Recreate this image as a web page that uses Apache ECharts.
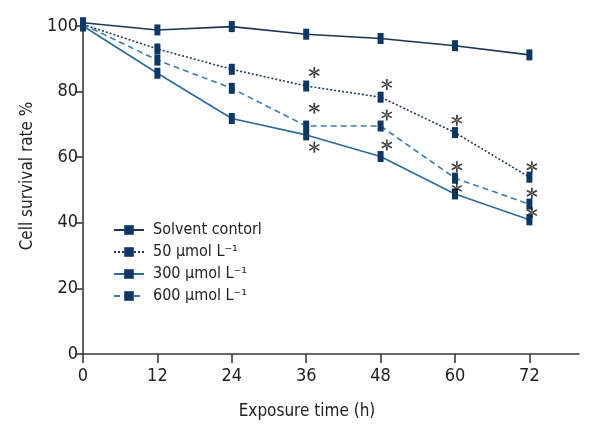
<!DOCTYPE html>
<html>
<head>
<meta charset="utf-8">
<script src="https://cdn.jsdelivr.net/npm/echarts@6/dist/echarts.min.js"></script>
<style>html,body{margin:0;padding:0;background:#fff;}#c{width:600px;height:440px;}</style>
</head>
<body>
<div id="c"></div>
<script>
var hours = [0, 12, 24, 36, 48, 60, 72];
var tickLabels = [0, 12, 24, 36, 48, 60, 72];
var seriesNames = ['Solvent contorl', '50 µmol L⁻¹', '300 µmol L⁻¹', '600 µmol L⁻¹'];
var solvent = [101, 98.8, 99.8, 97.5, 96.2, 94, 91.2];
var conc50 = [100.5, 93, 86.8, 81.7, 78.3, 67.5, 53.9];
var conc300 = [100, 85.6, 71.8, 66.8, 60.2, 48.8, 40.9];
var conc600 = [100.5, 89.6, 81, 69.5, 69.5, 53.6, 45.7];
var sigX = [37.3, 37.3, 37.3, 49, 49, 49, 60.3, 60.3, 60.3, 72.4, 72.4, 72.4];
var sigY = [85.8, 74.9, 63, 82.2, 72.9, 63.7, 71.3, 57.1, 50.5, 57.1, 49, 43.1];

var FONT = '"DejaVu Sans Condensed", "Liberation Sans Narrow", "Liberation Sans", sans-serif';
var markerColor = '#0e3764';
var asteriskPath = 'path://M8.5 0L11.5 0L11.5 20L8.5 20Z M2.09 16.3L19.41 6.3L17.91 3.7L0.59 13.7Z M0.59 6.3L17.91 16.3L19.41 13.7L2.09 3.7Z';

function pairs(xs, ys) { return xs.map(function (x, i) { return [x, ys[i]]; }); }

function lineSeries(name, values, color, type) {
  return {
    name: name, type: 'line', data: pairs(hours, values),
    symbol: 'rect', symbolSize: [6, 11], clip: false,
    itemStyle: { color: markerColor },
    lineStyle: { color: color, width: 1.6, type: type },
    z: 3
  };
}

var chart = echarts.init(document.getElementById('c'), null, { renderer: 'canvas' });
chart.setOption({
  animation: false,
  backgroundColor: '#ffffff',
  textStyle: { fontFamily: FONT },
  grid: { left: 83, right: 21, top: 26, bottom: 86 },
  legend: {
    data: seriesNames,
    orient: 'vertical', left: 108, top: 216,
    itemWidth: 30, itemHeight: 12, itemGap: 4,
    textStyle: { fontFamily: FONT, fontSize: 16, color: '#222', lineHeight: 18, padding: [0, 0, 0, 4] }
  },
  xAxis: {
    type: 'value', min: 0, max: 80,
    name: 'Exposure time (h)', nameLocation: 'middle', nameGap: 49,
    nameTextStyle: { fontFamily: FONT, fontSize: 17, color: '#222', padding: [0, 48, 0, 0] },
    axisLine: { show: true, onZero: false, lineStyle: { color: '#3a3a3a', width: 1.6 } },
    axisTick: { show: true, length: 9, customValues: tickLabels, lineStyle: { color: '#3a3a3a', width: 1.6 } },
    axisLabel: { customValues: tickLabels, fontFamily: FONT, fontSize: 18, color: '#222', margin: 13 },
    splitLine: { show: false }
  },
  yAxis: {
    type: 'value', min: 0, max: 100, interval: 20,
    name: 'Cell survival rate %', nameLocation: 'middle', nameGap: 32,
    nameTextStyle: { fontFamily: FONT, fontSize: 17, color: '#222', padding: [0, 0, 0, 28] },
    axisLine: { show: true, lineStyle: { color: '#3a3a3a', width: 1.6 } },
    axisTick: { show: true, length: 8, lineStyle: { color: '#3a3a3a', width: 1.6 } },
    axisLabel: { fontFamily: FONT, fontSize: 18, color: '#222', margin: 5 },
    splitLine: { show: false }
  },
  series: [
    lineSeries(seriesNames[0], solvent, '#1a3556', 'solid'),
    lineSeries(seriesNames[1], conc50, '#1f3d63', [2, 2]),
    lineSeries(seriesNames[2], conc300, '#2b6c9c', 'solid'),
    lineSeries(seriesNames[3], conc600, '#3c7cb0', [6, 4]),
    {
      type: 'scatter', data: pairs(sigX, sigY),
      symbol: asteriskPath, symbolSize: 11, clip: false,
      itemStyle: { color: '#111' }, z: 4, silent: true
    }
  ]
});
</script>
</body>
</html>
